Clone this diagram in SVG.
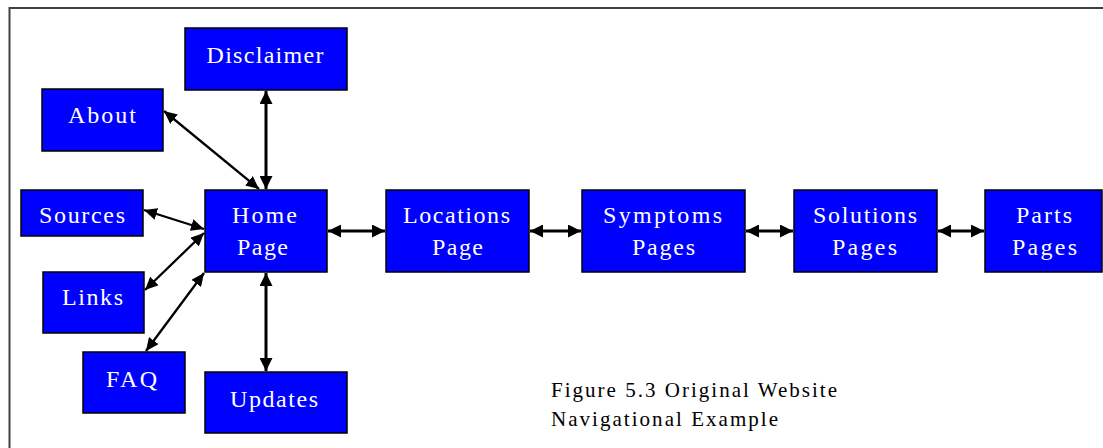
<svg xmlns="http://www.w3.org/2000/svg" width="1103" height="448" viewBox="0 0 1103 448">
  <style>
    .box { fill: #0000ff; stroke: #000; stroke-width: 1.5; }
    .lbl { font-family: "Liberation Serif", "Times New Roman", serif; font-size: 24px; fill: #fff; text-anchor: middle; }
    .cap { font-family: "Liberation Serif", "Times New Roman", serif; font-size: 21px; fill: #000; }
    .thick { stroke: #000; stroke-width: 3; fill: none; marker-start: url(#ah); marker-end: url(#ah); }
    .thin { stroke: #000; stroke-width: 2.3; fill: none; marker-start: url(#ahs); marker-end: url(#ahs); }
  </style>
  <defs>
    <marker id="ah" markerUnits="userSpaceOnUse" markerWidth="13" markerHeight="13" viewBox="0 0 13 13" refX="13" refY="6.5" orient="auto-start-reverse">
      <path d="M0,0 L13,6.5 L0,13 Z" fill="#000"/>
    </marker>
    <marker id="ahs" markerUnits="userSpaceOnUse" markerWidth="13" markerHeight="12" viewBox="0 0 13 12" refX="13" refY="6" orient="auto-start-reverse">
      <path d="M0,0 L13,6 L0,12 Z" fill="#000"/>
    </marker>
  </defs>

  <rect width="1103" height="448" fill="#fff"/>
  <!-- page frame -->
  <path d="M9.5,448 L9.5,8 L1103,8" fill="none" stroke="#404040" stroke-width="2"/>

  <g id="connectors">
    <line class="thick" x1="266" y1="91" x2="266" y2="189"/>
    <line class="thin" x1="164" y1="111" x2="259" y2="189"/>
    <line class="thin" x1="144" y1="210" x2="204" y2="229"/>
    <line class="thin" x1="145" y1="290" x2="204" y2="233"/>
    <line class="thin" x1="146" y1="351" x2="204" y2="273"/>
    <line class="thick" x1="266" y1="273" x2="266" y2="371"/>
    <line class="thick" x1="328" y1="231" x2="385" y2="231"/>
    <line class="thick" x1="530" y1="231" x2="581" y2="231"/>
    <line class="thick" x1="746" y1="231" x2="793" y2="231"/>
    <line class="thick" x1="938" y1="231" x2="984" y2="231"/>
  </g>

  <g id="disclaimer">
    <rect class="box" x="185" y="28" width="162" height="62"/>
    <text class="lbl" x="265" y="63" textLength="117" lengthAdjust="spacing">Disclaimer</text>
  </g>
  <g id="about">
    <rect class="box" x="42" y="89" width="121" height="62"/>
    <text class="lbl" x="102" y="123" textLength="68" lengthAdjust="spacing">About</text>
  </g>
  <g id="sources">
    <rect class="box" x="21" y="190" width="122" height="46"/>
    <text class="lbl" x="82" y="223" textLength="86" lengthAdjust="spacing">Sources</text>
  </g>
  <g id="home">
    <rect class="box" x="205" y="190" width="122" height="82"/>
    <text class="lbl" x="264.5" y="223" textLength="65" lengthAdjust="spacing">Home</text>
    <text class="lbl" x="262.5" y="255" textLength="51" lengthAdjust="spacing">Page</text>
  </g>
  <g id="links">
    <rect class="box" x="43" y="272" width="101" height="61"/>
    <text class="lbl" x="92.5" y="305" textLength="61" lengthAdjust="spacing">Links</text>
  </g>
  <g id="faq">
    <rect class="box" x="83" y="352" width="102" height="61"/>
    <text class="lbl" x="131.5" y="387" textLength="51" lengthAdjust="spacing">FAQ</text>
  </g>
  <g id="updates">
    <rect class="box" x="205" y="372" width="142" height="61"/>
    <text class="lbl" x="274" y="407" textLength="88" lengthAdjust="spacing">Updates</text>
  </g>
  <g id="locations">
    <rect class="box" x="386" y="190" width="143" height="82"/>
    <text class="lbl" x="456.5" y="223" textLength="107" lengthAdjust="spacing">Locations</text>
    <text class="lbl" x="457.5" y="255" textLength="51" lengthAdjust="spacing">Page</text>
  </g>
  <g id="symptoms">
    <rect class="box" x="582" y="190" width="163" height="82"/>
    <text class="lbl" x="662.5" y="223" textLength="119" lengthAdjust="spacing">Symptoms</text>
    <text class="lbl" x="663.5" y="255" textLength="63" lengthAdjust="spacing">Pages</text>
  </g>
  <g id="solutions">
    <rect class="box" x="794" y="190" width="143" height="82"/>
    <text class="lbl" x="865" y="223" textLength="104" lengthAdjust="spacing">Solutions</text>
    <text class="lbl" x="864.5" y="255" textLength="65" lengthAdjust="spacing">Pages</text>
  </g>
  <g id="parts">
    <rect class="box" x="985" y="190" width="117" height="82"/>
    <text class="lbl" x="1044" y="223" textLength="56" lengthAdjust="spacing">Parts</text>
    <text class="lbl" x="1044.5" y="255" textLength="65" lengthAdjust="spacing">Pages</text>
  </g>

  <g id="caption">
    <text class="cap" x="551" y="397" textLength="286" lengthAdjust="spacing">Figure 5.3 Original Website</text>
    <text class="cap" x="551" y="426" textLength="227" lengthAdjust="spacing">Navigational Example</text>
  </g>
</svg>
